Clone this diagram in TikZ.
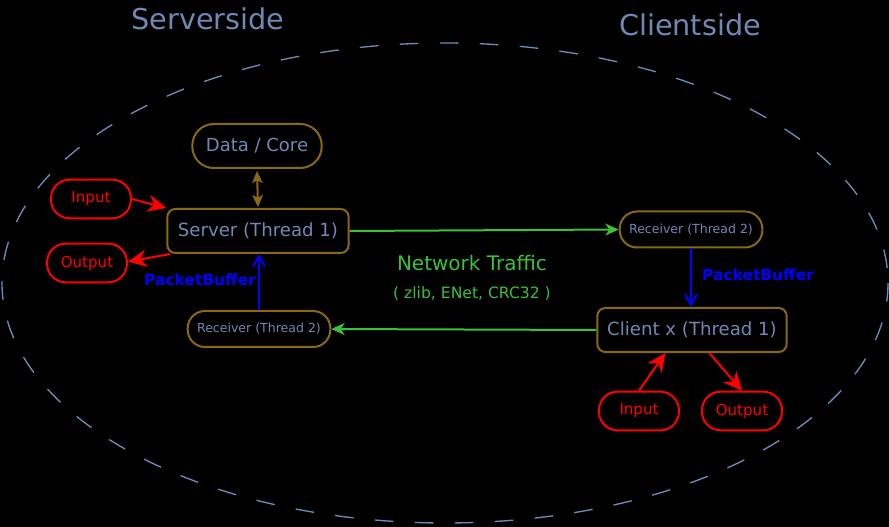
\documentclass[tikz,border=0pt]{standalone}
\usepackage{fontspec}
\setmainfont{DejaVu Sans}
\usetikzlibrary{arrows.meta}
\definecolor{bgc}{HTML}{000000}
\definecolor{ellc}{HTML}{6C8CBC}
\definecolor{txtc}{HTML}{7088B4}
\definecolor{boxc}{HTML}{8B6914}
\definecolor{redc}{HTML}{FF0000}
\definecolor{grnc}{HTML}{3CC03C}
\definecolor{bluc}{HTML}{0000FF}
\begin{document}
\begin{tikzpicture}[x=0.75pt,y=-0.75pt,
  corebox/.style={draw=boxc,line width=1.5pt,rounded corners=16pt,text=txtc,font=\fontsize{13.5pt}{15pt}\selectfont,minimum height=33pt,minimum width=97pt},
  threadbox/.style={draw=boxc,line width=1.5pt,rounded corners=6pt,text=txtc,font=\fontsize{13.6pt}{15pt}\selectfont,minimum height=33pt},
  recvbox/.style={draw=boxc,line width=1.5pt,rounded corners=13pt,text=txtc,font=\fontsize{9.4pt}{11pt}\selectfont,minimum height=27pt},
  iobox/.style={draw=redc,line width=1.5pt,rounded corners=14pt,text=redc,font=\fontsize{11.3pt}{12pt}\selectfont,minimum height=29pt,minimum width=60pt},
  redarr/.style={draw=redc,line width=1.5pt,-{Stealth[length=14pt,width=13pt]}},
  grnarr/.style={draw=grnc,line width=1.5pt,-{Stealth[length=10pt,width=9pt,inset=3pt]}},
  bluarr/.style={draw=bluc,line width=1.5pt,-{Straight Barb[length=8pt,width=9pt]}},
  bufl/.style={text=bluc,font=\bfseries\fontsize{11.6pt}{14pt}\selectfont},
  sidel/.style={text=txtc,font=\fontsize{21.5pt}{24pt}\selectfont}
]
\fill[bgc] (0,0) rectangle (889,527);
\useasboundingbox (0,0) rectangle (889,527);
\draw[ellc,line width=1pt,dash pattern=on 14pt off 16pt] (445,283) ellipse [x radius=443,y radius=240];

\node[sidel] (ss) at (208,19) {Serverside};
\node[sidel] (cs) at (690,25) {Clientside};

\node[corebox] (core) at (257,146) {Data / Core};
\node[threadbox,minimum width=136pt] (srv) at (258,231) {Server (Thread 1)};
\node[iobox] (sin) at (91,199) {Input};
\node[iobox] (sout) at (87,263) {Output};
\node[recvbox,minimum width=107pt] (srecv) at (259,329) {Receiver (Thread 2)};
\node[recvbox,minimum width=107pt] (crecv) at (691,229.5) {Receiver (Thread 2)};
\node[threadbox,minimum width=142pt] (cli) at (692,330) {Client x (Thread 1)};
\node[iobox] (cin) at (639,411) {Input};
\node[iobox] (cout) at (742,411) {Output};

\node[text=grnc,font=\fontsize{15pt}{17pt}\selectfont] (nt) at (472,263) {Network Traffic};
\node[text=grnc,font=\fontsize{11.7pt}{13pt}\selectfont] (nz) at (472,294) {( zlib, ENet, CRC32 )};
\node[bufl] (pb1) at (200,280) {PacketBuffer};
\node[bufl] (pb2) at (758,275) {PacketBuffer};

\coordinate (srvtop) at (258,209);
\draw[draw=boxc,line width=1.5pt,{Stealth[length=9pt,width=8pt,inset=2pt]}-{Stealth[length=9pt,width=8pt,inset=2pt]}] ([yshift=-1.5pt]core.south) -- ([yshift=1.5pt]srvtop);
\draw[redarr] (sin.east) -- (srv.north west);
\draw[redarr] ([xshift=3pt]srv.south west) -- ([yshift=1pt]sout.east);
\draw[grnarr] (srv.east) -- (crecv.west);
\draw[grnarr] (cli.west) -- (srecv.east);
\draw[bluarr] (srecv.north) -- (srecv.north |- srv.south);
\draw[bluarr] (crecv.south) -- (crecv.south |- cli.north);
\draw[redarr] (cin.north) -- ([xshift=-20pt]cli.south);
\draw[redarr] ([xshift=13pt]cli.south) -- (cout.north);
\end{tikzpicture}
\end{document}
